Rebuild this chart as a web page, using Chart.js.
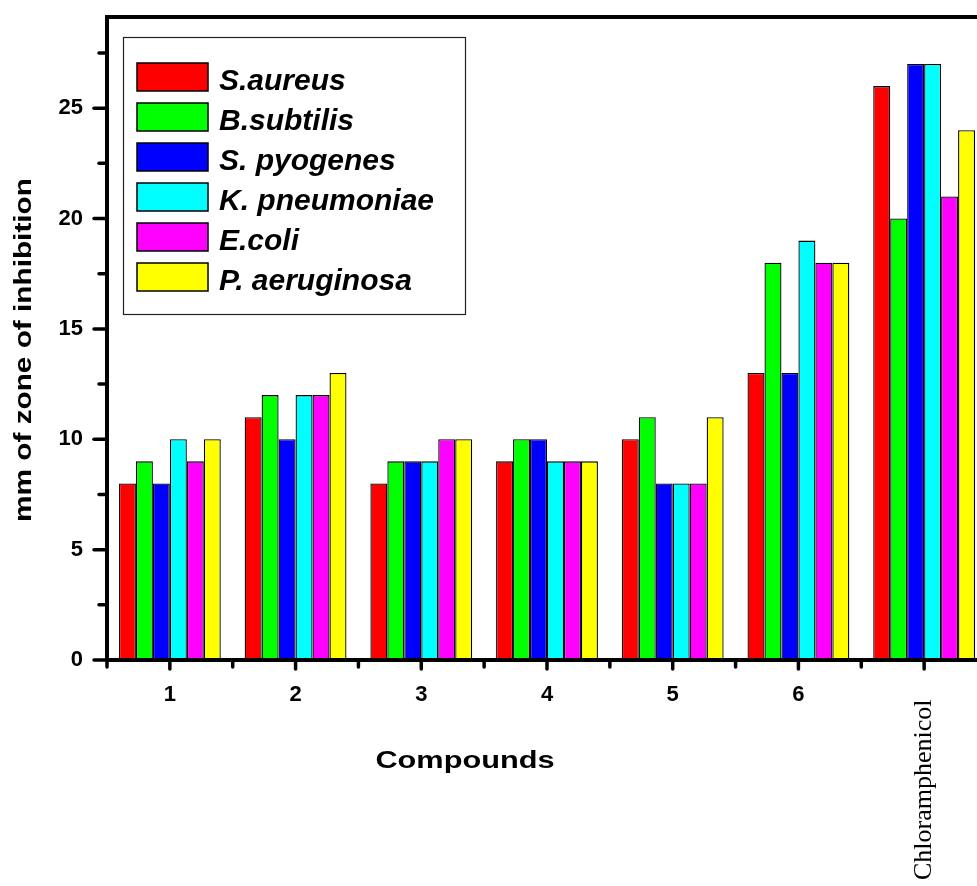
<!DOCTYPE html>
<html><head><meta charset="utf-8">
<script src="https://cdn.jsdelivr.net/npm/chart.js@4/dist/chart.umd.min.js"></script>
<style>html,body{margin:0;padding:0;overflow:hidden;background:#fff}canvas{display:block}</style>
</head>
<body>
<canvas id="c" width="990" height="886" style="width:990px;height:886px"></canvas>
<script>
const categories = ['1','2','3','4','5','6','Chloramphenicol'];
const seriesNames = ['S.aureus','B.subtilis','S. pyogenes','K. pneumoniae','E.coli','P. aeruginosa'];
const sAureus     = [8, 11, 8, 9, 10, 13, 26];
const bSubtilis   = [9, 12, 9, 10, 11, 18, 20];
const sPyogenes   = [8, 10, 9, 10, 8, 13, 27];
const kPneumoniae = [10, 12, 9, 9, 8, 19, 27];
const eColi       = [9, 12, 10, 9, 8, 18, 21];
const pAeruginosa = [10, 13, 10, 9, 11, 18, 24];
const yTickLabels = [0, 5, 10, 15, 20, 25];
const xTitle = 'Compounds';
const yTitle = 'mm of zone of inhibition';
const colors = ['#ff0000','#00ff00','#0000ff','#00ffff','#ff00ff','#ffff00'];

const seriesValues = [sAureus, bSubtilis, sPyogenes, kPneumoniae, eColi, pAeruginosa];
const datasets = seriesNames.map((n, i) => ({
  label: n,
  data: seriesValues[i],
  backgroundColor: colors[i],
  borderColor: '#000',
  borderWidth: 1.3,
  borderSkipped: 'start',
  categoryPercentage: 0.81,
  barPercentage: 1.0
}));

const SANS = "Arial, 'Liberation Sans', sans-serif";
const SERIF = "'Times New Roman', 'Liberation Serif', serif";

const decor = {
  id: 'decor',
  afterDraw(chart) {
    const ctx = chart.ctx;
    const ca = chart.chartArea;
    const xs = chart.scales.x, ys = chart.scales.y;
    ctx.save();
    ctx.strokeStyle = '#000';
    ctx.lineCap = 'butt';
    // frame
    ctx.lineWidth = 4;
    ctx.beginPath();
    ctx.moveTo(ca.left, ca.bottom + 2);
    ctx.lineTo(ca.left, ca.top);
    ctx.lineTo(chart.width, ca.top);
    ctx.moveTo(ca.left - 2, ca.bottom);
    ctx.lineTo(chart.width, ca.bottom);
    ctx.stroke();
    // y ticks
    ctx.lineWidth = 3.5;
    ctx.lineCap = 'round';
    ys.ticks.forEach(t => {
      const v = t.value;
      if (Math.abs(v / 2.5 - Math.round(v / 2.5)) > 1e-6) return;
      const py = ys.getPixelForValue(v);
      const major = yTickLabels.includes(v);
      ctx.beginPath();
      ctx.moveTo(ca.left - (major ? 13 : 8), py);
      ctx.lineTo(ca.left, py);
      ctx.stroke();
    });
    // x ticks
    for (let i = 0; i < categories.length; i++) {
      const px = xs.getPixelForValue(i);
      ctx.beginPath();
      ctx.moveTo(px, ca.bottom);
      ctx.lineTo(px, ca.bottom + 9);
      ctx.stroke();
    }
    for (let i = 0; i <= categories.length; i++) {
      const px = xs.getPixelForValue(i - 0.5);
      ctx.beginPath();
      ctx.moveTo(px, ca.bottom);
      ctx.lineTo(px, ca.bottom + 7);
      ctx.stroke();
    }
    // x labels
    ctx.fillStyle = '#000';
    categories.forEach((c, i) => {
      const px = xs.getPixelForValue(i);
      if (c.length <= 2) {
        ctx.font = 'bold 22px ' + SANS;
        ctx.textAlign = 'center';
        ctx.textBaseline = 'middle';
        ctx.fillText(c, px, 695);
      } else {
        ctx.save();
        ctx.translate(px + 7, 880);
        ctx.rotate(-Math.PI / 2);
        ctx.font = '26px ' + SERIF;
        ctx.textAlign = 'left';
        ctx.textBaseline = 'alphabetic';
        ctx.fillText(c, 0, 0);
        ctx.restore();
      }
    });
    // axis titles (stretched horizontally as in reference)
    ctx.save();
    ctx.translate(465, 761);
    ctx.scale(1.28, 1);
    ctx.font = 'bold 24px ' + SANS;
    ctx.textAlign = 'center';
    ctx.textBaseline = 'middle';
    ctx.fillText(xTitle, 0, 0);
    ctx.restore();

    ctx.save();
    ctx.translate(24, 350);
    ctx.rotate(-Math.PI / 2);
    ctx.scale(1.24, 1);
    ctx.font = 'bold 24px ' + SANS;
    ctx.textAlign = 'center';
    ctx.textBaseline = 'middle';
    ctx.fillText(yTitle, 0, 0);
    ctx.restore();

    // legend
    const lx = 123, ly = 37, lw = 342, lh = 277;
    ctx.lineWidth = 1.2;
    ctx.lineCap = 'butt';
    ctx.strokeStyle = '#222';
    ctx.fillStyle = '#fff';
    ctx.fillRect(lx, ly, lw, lh);
    ctx.strokeRect(lx + 0.5, ly + 0.5, lw, lh);
    chart.data.datasets.forEach((ds, i) => {
      const top = 63 + i * 40;
      ctx.fillStyle = ds.backgroundColor;
      ctx.fillRect(137, top, 71, 28);
      ctx.strokeStyle = '#000';
      ctx.lineWidth = 1.5;
      ctx.strokeRect(137, top, 71, 28);
      ctx.fillStyle = '#000';
      ctx.font = 'italic bold 30px ' + SANS;
      ctx.textAlign = 'left';
      ctx.textBaseline = 'alphabetic';
      ctx.fillText(ds.label, 219, top + 27);
    });
    ctx.restore();
  }
};

new Chart(document.getElementById('c'), {
  type: 'bar',
  data: { labels: categories, datasets },
  options: {
    responsive: false,
    animation: false,
    devicePixelRatio: 1,
    layout: { padding: { left: 0, top: 17, right: 3, bottom: 0 } },
    plugins: { legend: { display: false }, tooltip: { enabled: false } },
    scales: {
      x: {
        offset: true,
        grid: { display: false, drawTicks: false },
        border: { display: false },
        ticks: { display: false },
        afterFit: s => { s.height = 226; s.paddingLeft = 0; s.paddingRight = 0; }
      },
      y: {
        min: 0,
        max: 29.13,
        grid: { display: false, drawTicks: false },
        border: { display: false },
        ticks: {
          stepSize: 2.5,
          includeBounds: false,
          autoSkip: false,
          padding: 24,
          color: '#000',
          font: { family: SANS, size: 22, weight: 'bold' },
          callback: v => yTickLabels.includes(v) ? String(v) : ''
        },
        afterFit: s => { s.width = 107; s.paddingTop = 0; s.paddingBottom = 0; }
      }
    }
  },
  plugins: [decor]
});
</script>
</body></html>
